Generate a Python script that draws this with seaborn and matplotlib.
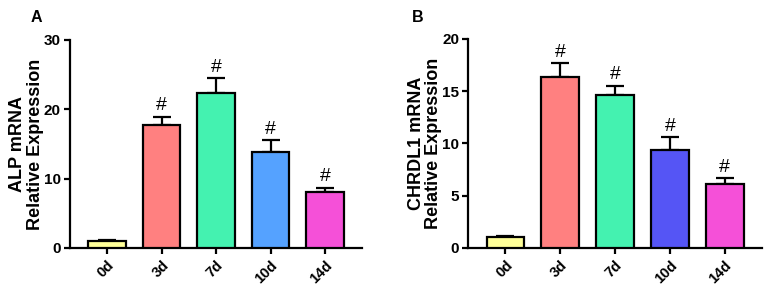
import numpy as np
import pandas as pd
import seaborn as sns
import matplotlib.pyplot as plt

sns.set_theme(style="ticks")
plt.rcParams["font.family"] = ["Liberation Sans", "DejaVu Sans"]
plt.rcParams["text.color"] = "black"
plt.rcParams["axes.labelcolor"] = "black"
plt.rcParams["xtick.color"] = "black"
plt.rcParams["ytick.color"] = "black"
plt.rcParams["axes.edgecolor"] = "black"

days = ["0d", "3d", "7d", "10d", "14d"]
alp_mean = [1.05, 17.7, 22.4, 13.9, 8.0]
alp_err = [0.1, 1.2, 2.1, 1.6, 0.7]
chrdl1_mean = [1.05, 16.35, 14.6, 9.4, 6.15]
chrdl1_err = [0.1, 1.3, 0.9, 1.2, 0.5]
colors_a = ["#FFFF99", "#FF8080", "#44F2B0", "#55A2FF", "#F550D8"]
colors_b = ["#FFFF99", "#FF8080", "#44F2B0", "#5555F5", "#F550D8"]

fig = plt.figure(figsize=(7.65, 2.89), dpi=100)
ax_a = fig.add_axes([0.0915, 0.142, 0.382, 0.72])
ax_b = fig.add_axes([0.612, 0.142, 0.384, 0.724])


def draw(ax, mean, err, colors, ylabel, ymax, step):
    df = pd.DataFrame({"day": days, "value": mean})
    sns.barplot(data=df, x="day", y="value", hue="day", palette=colors,
                order=days, hue_order=days, legend=False, width=0.69,
                saturation=1, edgecolor="black", linewidth=1.6, ax=ax, zorder=3)
    x = np.arange(len(days))
    ax.errorbar(x, mean, yerr=[np.zeros(len(err)), err], fmt="none",
                ecolor="black", elinewidth=1.6, capsize=6.5, capthick=1.6,
                zorder=2)
    for i in range(1, len(days)):
        ax.text(x[i], mean[i] + err[i] + ymax * 0.012, "#", ha="center",
                va="bottom", fontsize=14)
    ax.set_ylim(0, ymax)
    ax.set_xlim(-0.68, 4.68)
    ax.set_yticks(np.arange(0, ymax + 0.1, step))
    ax.set_xlabel("")
    ax.set_ylabel(ylabel, fontsize=13, fontweight="bold", linespacing=1.05,
                  labelpad=0)
    for s in ["top", "right"]:
        ax.spines[s].set_visible(False)
    for s in ["left", "bottom"]:
        ax.spines[s].set_linewidth(1.6)
    ax.tick_params(width=1.6, length=4.5, labelsize=11, pad=2)
    ax.tick_params(axis="x", pad=3, labelsize=10.5)
    for lbl in ax.get_yticklabels():
        lbl.set_fontweight("bold")
    for lbl in ax.get_xticklabels():
        lbl.set_fontweight("bold")
        lbl.set_rotation(45)
        lbl.set_ha("right")
        lbl.set_rotation_mode("anchor")


draw(ax_a, alp_mean, alp_err, colors_a, "ALP mRNA\nRelative Expression", 30, 10)
draw(ax_b, chrdl1_mean, chrdl1_err, colors_b, "CHRDL1 mRNA\nRelative Expression", 20, 5)

fig.text(0.048, 0.94, "A", fontsize=11.5, fontweight="bold", ha="center", va="center")
fig.text(0.546, 0.94, "B", fontsize=11.5, fontweight="bold", ha="center", va="center")

fig.savefig("out.png", dpi=100)
